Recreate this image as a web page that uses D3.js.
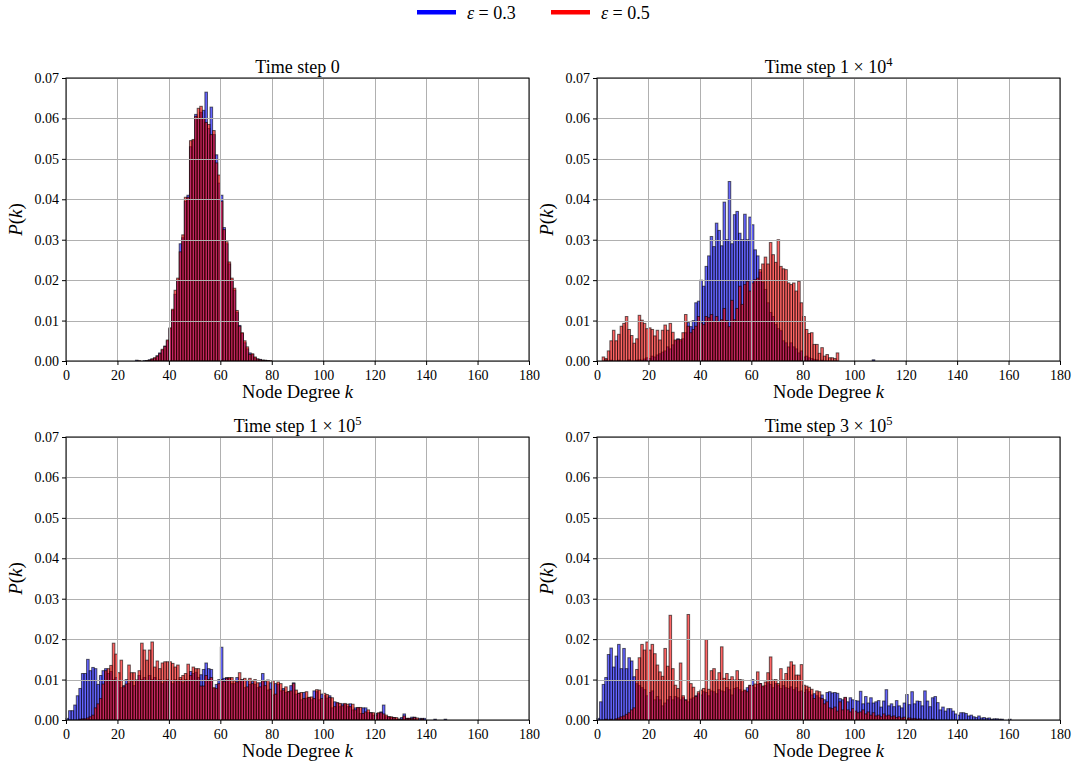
<!DOCTYPE html>
<html><head><meta charset="utf-8">
<script src="https://cdn.jsdelivr.net/npm/d3@7"></script>
<style>
body{margin:0;background:#fff}
svg{display:block}
text{font-family:"Liberation Serif","Times New Roman",serif;fill:#000}
</style>
</head><body>
<svg id="c" width="1076" height="762"></svg>
<script>
// ---------------- DATA ----------------
const degreeTicks = [0,20,40,60,80,100,120,140,160,180];
const probTicks = [0,0.01,0.02,0.03,0.04,0.05,0.06,0.07];
const seriesLabels = ["0.3","0.5"];
const panelTitles = ["Time step 0","Time step 1 × 10^4","Time step 1 × 10^5","Time step 3 × 10^5"];

// Time step 0
const t0BlueStart = 27;
const t0Blue = [0.0002,0,0,0.0001,0.0001,0.0003,0.0005,0.0007,0.0013,0.0020,0.0027,0.0037,0.0050,0.0080,0.0125,0.0165,0.0200,0.0290,0.0305,0.0395,0.0410,0.0530,0.0545,0.0610,0.0600,0.0615,0.0620,0.0665,0.0575,0.0628,0.0560,0.0510,0.0440,0.0410,0.0330,0.0290,0.0240,0.0200,0.0175,0.0120,0.0088,0.0068,0.0045,0.0030,0.0020,0.0016,0.0008,0.0005,0.0004,0.0002,0.0002,0.0001];
const t0RedStart = 27;
const t0Red = [0,0.0001,0,0,0.0001,0.0002,0.0005,0.0008,0.0012,0.0018,0.0029,0.0036,0.0052,0.0082,0.0128,0.0175,0.0205,0.0270,0.0312,0.0405,0.0405,0.0545,0.0548,0.0605,0.0625,0.0630,0.0600,0.0590,0.0585,0.0560,0.0570,0.0490,0.0460,0.0395,0.0325,0.0295,0.0245,0.0205,0.0180,0.0125,0.0086,0.0070,0.0050,0.0035,0.0016,0.0018,0.0010,0.0005,0.0003,0.0002,0.0001,0.0001,0.0001];

// Time step 1e4
const t1BlueStart = 3;
const t1Blue = [0.0003,0,0.0002,0,0,0.0002,0,0,0,0.0003,0,0,0.0002,
  0.0003,0.0002,0.0005,0.0008,0.0006,0.0012,0.0010,0.0015,0.0018,0.0022,0.0025,0.0035,0.0030,0.0040,0.0050,0.0055,0.0050,0.0055,0.0070,0.0095,0.0085,0.0100,
  0.0144,0.0148,0.0200,0.0185,0.0234,0.0260,0.0308,0.0283,0.0341,0.0323,0.0285,0.0393,0.0300,0.0444,0.0290,0.0362,0.0370,0.0316,0.0300,0.0363,0.0300,0.0356,0.0337,0.0275,0.0260,0.0220,0.0195,0.0177,0.0144,
  0.0120,0.0110,0.0090,0.0080,0.0075,0.0050,0.0045,0.0035,0.0045,0.0035,0.0030,0.0020,0.0025,0.0010,0.0012,0.0008,0.0006,0.0004,0.0003,0,0.0002,
  0,0,0,0,0,0,0,0,0,0,0,0,0,0,0,0,0,0,0,0.0003];
const t1RedStart = 2;
const t1Red = [0.0010,0.0006,0.0025,0.0050,0.0076,0.0050,0.0066,0.0086,0.0093,0.0110,
  0.0078,0.0063,0.0044,0.0055,0.0113,0.0101,0.0093,0.0080,0.0082,0.0078,
  0.0062,0.0076,0.0052,0.0076,0.0089,0.0076,0.0093,0.0071,0.0052,0.0053,
  0.0053,0.0070,0.0115,0.0086,0.0070,0.0078,0.0086,0.0110,0.0094,0.0090,
  0.0110,0.0107,0.0115,0.0098,0.0110,0.0098,0.0102,0.0130,0.0100,0.0085,
  0.0150,0.0102,0.0130,0.0185,0.0140,0.0189,0.0197,0.0173,0.0193,0.0201,
  0.0205,0.0226,0.0240,0.0257,0.0240,0.0293,0.0263,0.0244,0.0300,0.0234,
  0.0228,0.0226,0.0193,0.0189,0.0193,0.0173,0.0197,0.0144,0.0110,0.0078,
  0.0068,0.0070,0.0041,0.0041,0.0019,0.0033,0.0012,0.0016,0.0008,0.0008,
  0.0006,0.0020];

// Time step 1e5
const t2BlueStart = 0;
const t2Blue = [0.0004,0.0023,0.0023,0.0037,0.0060,0.0078,0.0115,0.0115,0.0150,0.0122,
  0.0130,0.0127,0.0088,0.0110,0.0122,0.0127,0.0115,0.0120,0.0100,0.0105,
  0.0095,0.0080,0.0085,0.0100,0.0090,0.0095,0.0085,0.0098,0.0110,0.0100,
  0.0105,0.0095,0.0110,0.0100,0.0105,0.0098,0.0100,0.0090,0.0095,0.0100,
  0.0098,0.0090,0.0100,0.0095,0.0100,0.0092,0.0100,0.0098,0.0120,0.0115,
  0.0118,0.0105,0.0112,0.0125,0.0141,0.0127,0.0125,0.0078,0.0088,0.0100,
  0.0180,0.0103,0.0105,0.0103,0.0090,0.0090,0.0105,0.0095,0.0100,0.0080,
  0.0098,0.0088,0.0095,0.0088,0.0080,0.0092,0.0115,0.0095,0.0074,0.0092,
  0.0062,0.0090,0.0088,0.0072,0.0078,0.0068,0.0070,0.0085,0.0092,0.0064,
  0.0066,0.0050,0.0068,0.0054,0.0055,0.0050,0.0072,0.0070,0.0050,0.0064,
  0.0060,0.0054,0.0060,0.0030,0.0045,0.0042,0.0033,0.0040,0.0038,0.0033,
  0.0040,0.0025,0.0030,0.0030,0.0016,0.0030,0.0030,0.0018,0.0018,0.0012,
  0.0016,0.0016,0.0020,0.0037,0.0008,0.0008,0.0006,0.0006,0.0002,0.0002,
  0.0006,0.0015,0.0004,0.0004,0.0007,0.0007,0,0.0004,0.0004,0.0004,
  0,0,0,0.0002,0,0,0,0.0002];
const t2RedStart = 5;
const t2Red = [0.0002,0.0003,0.0003,0.0005,0.0008,0.0012,0.0030,0.0040,0.0053,0.0089,
  0.0122,0.0127,0.0135,0.0190,0.0163,0.0117,0.0148,0.0082,0.0089,0.0136,
  0.0117,0.0117,0.0099,0.0122,0.0190,0.0173,0.0148,0.0173,0.0193,0.0131,
  0.0146,0.0127,0.0141,0.0144,0.0144,0.0144,0.0140,0.0131,0.0136,0.0105,
  0.0110,0.0115,0.0138,0.0110,0.0131,0.0127,0.0127,0.0084,0.0084,0.0110,
  0.0100,0.0105,0.0080,0.0078,0.0090,0.0100,0.0095,0.0103,0.0105,0.0105,
  0.0097,0.0094,0.0117,0.0099,0.0103,0.0082,0.0103,0.0090,0.0100,0.0092,
  0.0082,0.0097,0.0085,0.0099,0.0076,0.0097,0.0064,0.0094,0.0090,0.0074,
  0.0082,0.0070,0.0072,0.0090,0.0074,0.0066,0.0068,0.0053,0.0070,0.0056,
  0.0057,0.0053,0.0075,0.0074,0.0053,0.0066,0.0063,0.0056,0.0055,0.0033,
  0.0043,0.0041,0.0035,0.0041,0.0039,0.0033,0.0039,0.0025,0.0031,0.0031,
  0.0016,0.0020,0.0025,0.0018,0.0018,0.0012,0.0018,0.0018,0.0015,0.0012,
  0.0008,0.0008,0.0006,0.0006,0.0002,0.0002,0.0010,0.0004,0.0004,0.0004,
  0.0006,0.0005,0,0.0003];

// Time step 3e5
const t3BlueStart = 0;
const t3Blue = [0.0004,0.0045,0.0088,0.0105,0.0162,0.0178,0.0131,0.0158,0.0187,0.0127,
  0.0177,0.0127,0.0154,0.0146,0.0107,0.0090,0.0085,0.0080,0.0075,0.0060,
  0.0068,0.0072,0.0050,0.0058,0.0050,0.0035,0.0042,0.0050,0.0058,0.0050,
  0.0058,0.0055,0.0050,0.0055,0.0050,0.0045,0.0052,0.0055,0.0060,0.0065,
  0.0062,0.0070,0.0068,0.0060,0.0072,0.0070,0.0065,0.0075,0.0072,0.0070,
  0.0080,0.0075,0.0062,0.0078,0.0080,0.0075,0.0070,0.0072,0.0080,0.0085,
  0.0100,0.0080,0.0088,0.0090,0.0082,0.0085,0.0092,0.0088,0.0080,0.0090,
  0.0085,0.0078,0.0085,0.0080,0.0078,0.0082,0.0075,0.0080,0.0070,0.0072,
  0.0068,0.0075,0.0070,0.0062,0.0065,0.0060,0.0055,0.0062,0.0050,0.0068,
  0.0070,0.0067,0.0068,0.0066,0.0053,0.0050,0.0055,0.0045,0.0055,0.0050,
  0.0048,0.0047,0.0071,0.0040,0.0058,0.0042,0.0055,0.0042,0.0045,0.0048,
  0.0032,0.0047,0.0075,0.0035,0.0040,0.0033,0.0048,0.0035,0.0030,0.0042,
  0.0063,0.0038,0.0070,0.0040,0.0047,0.0046,0.0035,0.0072,0.0047,0.0033,
  0.0055,0.0058,0.0043,0.0025,0.0032,0.0022,0.0028,0.0028,0.0022,0.0015,
  0.0012,0.0018,0.0018,0.0016,0.0010,0.0012,0.0008,0.0006,0.0010,0.0005,
  0.0006,0.0004,0.0005,0.0002,0.0003,0.0003,0.0002,0.0002,0,0,0.0002];
const t3RedStart = 3;
const t3Red = [0.0002,0,0.0002,0,0.0003,0.0005,0.0008,0.0010,0.0014,0.0018,
  0.0025,0.0030,0.0125,0.0154,0.0187,0.0173,0.0193,0.0173,0.0187,0.0164,
  0.0136,0.0119,0.0108,0.0177,0.0133,0.0259,0.0127,0.0086,0.0078,0.0141,
  0.0060,0.0049,0.0261,0.0090,0.0081,0.0058,0.0070,0.0074,0.0078,0.0199,
  0.0076,0.0122,0.0127,0.0099,0.0117,0.0181,0.0103,0.0115,0.0100,0.0107,
  0.0099,0.0122,0.0100,0.0099,0.0074,0.0070,0.0086,0.0085,0.0089,0.0119,
  0.0090,0.0084,0.0094,0.0117,0.0156,0.0099,0.0100,0.0090,0.0127,0.0099,
  0.0115,0.0131,0.0144,0.0136,0.0111,0.0111,0.0137,0.0086,0.0084,0.0081,
  0.0076,0.0053,0.0072,0.0070,0.0053,0.0040,0.0045,0.0030,0.0028,0.0032,
  0.0022,0.0045,0.0025,0.0056,0.0025,0.0020,0.0028,0.0022,0.0018,0.0020,
  0.0025,0.0015,0.0020,0.0012,0.0018,0.0010,0.0012,0.0008,0.0015,0.0010,
  0.0012,0.0008,0.0010,0.0006,0.0008,0.0005,0.0007,0.0004,0.0005,0.0003,
  0.0004,0.0002,0.0003,0,0.0002,0,0,0.0002];

// ---------------- CHART ----------------
const panels = [
  {title: panelTitles[0], blueStart: t0BlueStart, blue: t0Blue, redStart: t0RedStart, red: t0Red},
  {title: panelTitles[1], blueStart: t1BlueStart, blue: t1Blue, redStart: t1RedStart, red: t1Red},
  {title: panelTitles[2], blueStart: t2BlueStart, blue: t2Blue, redStart: t2RedStart, red: t2Red},
  {title: panelTitles[3], blueStart: t3BlueStart, blue: t3Blue, redStart: t3RedStart, red: t3Red}
];
const svg = d3.select("#c");
const W = 463, H = 283;
const origins = [[66,78],[597,78],[66,437],[597,437]];
const x = d3.scaleLinear().domain([0,180]).range([0,W]);
const y = d3.scaleLinear().domain([0,0.07]).range([H,0]);
const FONT = '"Liberation Serif","Times New Roman",serif';

function toBins(start, vals){
  return vals.map((v,i)=>({k:start+i, v})).filter(d=>d.v>0);
}

panels.forEach((p,i)=>{
  const g = svg.append("g").attr("transform",`translate(${origins[i][0]},${origins[i][1]})`);
  [[p.blueStart,p.blue,"#0000ff"],[p.redStart,p.red,"#ff0000"]].forEach(([s,vals,col])=>{
    g.append("g").selectAll("rect").data(toBins(s,vals)).join("rect")
      .attr("x",d=>x(d.k)).attr("width",d=>x(d.k+1)-x(d.k))
      .attr("y",d=>y(d.v)).attr("height",d=>y(0)-y(d.v))
      .attr("fill",col).attr("fill-opacity",0.6)
      .attr("stroke","#000").attr("stroke-opacity",0.6).attr("stroke-width",1);
  });
  // grid
  const grid = g.append("g").attr("stroke","#b0b0b0").attr("stroke-width",1);
  grid.selectAll(".gx").data(degreeTicks).join("line")
    .attr("x1",d=>Math.round(x(d))+0.5).attr("x2",d=>Math.round(x(d))+0.5).attr("y1",0).attr("y2",H);
  grid.selectAll(".gy").data(probTicks).join("line")
    .attr("y1",d=>Math.round(y(d))+0.5).attr("y2",d=>Math.round(y(d))+0.5).attr("x1",0).attr("x2",W);
  // axes
  const xa = g.append("g").attr("transform",`translate(0,${H})`)
    .call(d3.axisBottom(x).tickValues(degreeTicks).tickSize(4).tickPadding(5).tickFormat(d3.format("d")));
  const ya = g.append("g")
    .call(d3.axisLeft(y).tickValues(probTicks).tickSize(4).tickPadding(3).tickFormat(d3.format(".2f")));
  [xa,ya].forEach(a=>{
    a.attr("font-family",FONT).attr("font-size",14);
    a.select(".domain").remove();
    a.selectAll("line").attr("stroke","#000");
  });
  // frame
  g.append("rect").attr("x",0).attr("y",0).attr("width",W).attr("height",H)
    .attr("fill","none").attr("stroke","#000").attr("stroke-width",1);
  // title
  const t = g.append("text").attr("x",W/2).attr("y",-5).attr("text-anchor","middle").attr("font-size",18);
  const parts = p.title.split("^");
  t.append("tspan").text(parts[0]);
  if(parts[1]) t.append("tspan").attr("dy",-7).attr("font-size",12.5).text(parts[1]);
  // x label
  const xl = g.append("text").attr("x",W/2).attr("y",H+37).attr("text-anchor","middle").attr("font-size",18.5);
  xl.append("tspan").text("Node Degree ");
  xl.append("tspan").attr("font-style","italic").text("k");
  // y label
  const yl = g.append("text").attr("transform",`translate(-44,${H/2}) rotate(-90)`).attr("text-anchor","middle").attr("font-size",19);
  yl.append("tspan").attr("font-style","italic").text("P");
  yl.append("tspan").text("(");
  yl.append("tspan").attr("font-style","italic").text("k");
  yl.append("tspan").text(")");
});

// legend
const legendColors = ["#0000ff","#ff0000"];
const legendX = [417, 551];
seriesLabels.forEach((lab,i)=>{
  svg.append("line").attr("x1",legendX[i]).attr("x2",legendX[i]+39).attr("y1",12.3).attr("y2",12.3)
    .attr("stroke",legendColors[i]).attr("stroke-width",4.5);
  const t = svg.append("text").attr("x",legendX[i]+50).attr("y",18.5).attr("font-size",18);
  t.append("tspan").attr("font-style","italic").text("ε");
  t.append("tspan").text(" = " + lab);
});
</script>
</body></html>
